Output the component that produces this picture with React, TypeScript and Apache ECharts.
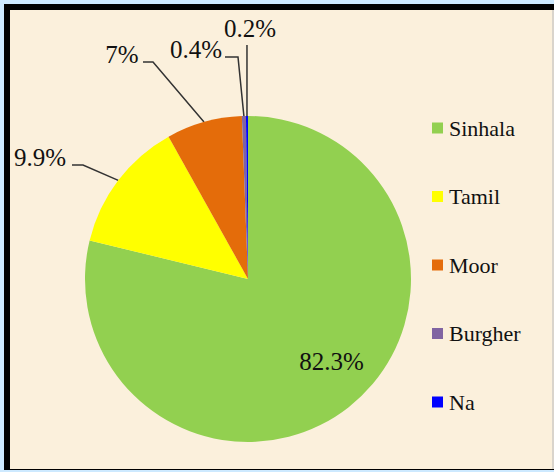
import React, { useEffect, useRef } from "react";
import * as echarts from "echarts";

const categories = ["Sinhala", "Tamil", "Moor", "Burgher", "Na"];
const sliceShares = [78.8, 13.1, 7.5, 0.4, 0.2];
const percentLabels = ["82.3%", "9.9%", "7%", "0.4%", "0.2%"];
const colors = ["#92d050", "#ffff00", "#e46c0a", "#8064a2", "#0000ff"];

const W = 554;
const H = 472;
const CX = 248;
const CY = 279;
const R = 163;
const SERIF = "Liberation Serif";

// label text centre and leader-line geometry (layout, pixels)
const labelPlacement: { x: number; y: number; line?: number[][] }[] = [
  { x: 331.5, y: 361 },
  { x: 40, y: 157, line: [[83, 165], [72, 165]] },
  { x: 122, y: 54, line: [[153, 62], [143, 62]] },
  { x: 196, y: 49, line: [[238, 57], [225, 57]] },
  { x: 250, y: 28, line: [[248, 45]] },
];

export default function App() {
  const ref = useRef<HTMLDivElement>(null);
  useEffect(() => {
    document.body.style.margin = "0";
    const chart = echarts.init(ref.current!, null, { renderer: "svg" });
    const total = sliceShares.reduce((a, b) => a + b, 0);
    const edgePoint = (i: number) => {
      let before = 0;
      for (let k = 0; k < i; k++) before += sliceShares[k];
      const mid = ((before + sliceShares[i] / 2) / total) * Math.PI * 2;
      return [CX + R * Math.sin(mid), CY - R * Math.cos(mid)];
    };
    chart.setOption({
      animation: false,
      backgroundColor: "#cde9ff",
      textStyle: { fontFamily: SERIF },
      graphic: [
        { type: "rect", z: -10, shape: { x: 4, y: 4, width: 550, height: 466 }, style: { fill: "#000" }, silent: true },
        { type: "rect", z: -9, shape: { x: 10, y: 10, width: 542, height: 459 }, style: { fill: "#fbf0dc" }, silent: true },
        { type: "rect", z: -9, shape: { x: 552, y: 10, width: 2, height: 459 }, style: { fill: "#d9d4cc" }, silent: true },
      ],
      legend: {
        orient: "vertical",
        left: 432,
        top: 117,
        padding: 0,
        itemWidth: 11,
        itemHeight: 11,
        itemGap: 46.5,
        icon: "rect",
        data: categories,
        textStyle: {
          fontFamily: "serif",
          fontSize: 22,
          lineHeight: 22,
          color: "#111",
          padding: [0, 0, 0, 1],
        },
      },
      series: [
        {
          type: "pie",
          center: [CX, CY],
          radius: R,
          startAngle: 90,
          clockwise: true,
          avoidLabelOverlap: false,
          label: {
            show: true,
            fontFamily: SERIF,
            fontSize: 25,
            color: "#111",
            formatter: (p: any) => percentLabels[p.dataIndex],
          },
          labelLine: {
            show: true,
            lineStyle: { color: "#333", width: 1.5 },
          },
          labelLayout: (p: any) => {
            const pl = labelPlacement[p.dataIndex];
            const out: any = { x: pl.x, y: pl.y, align: "center", verticalAlign: "middle" };
            if (pl.line) {
              const e = edgePoint(p.dataIndex);
              if (p.dataIndex === 4) out.labelLinePoints = [e, [e[0], pl.line[0][1]]];
              else out.labelLinePoints = [e, ...pl.line];
            }
            return out;
          },
          data: categories.map((name, i) => ({
            name,
            value: sliceShares[i],
            itemStyle: { color: colors[i] },
            labelLine: { show: i !== 0 },
          })),
        },
      ],
    });
    return () => chart.dispose();
  }, []);
  return <div ref={ref} style={{ width: W, height: H }} />;
}
